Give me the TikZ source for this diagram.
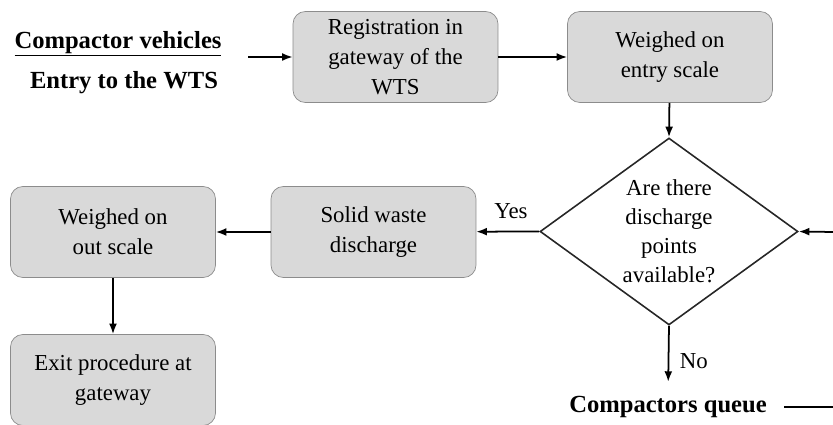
\documentclass[tikz,border=0pt]{standalone}
\usepackage{fontspec}
\setmainfont{Liberation Serif}
\usetikzlibrary{shapes.geometric,arrows.meta,positioning}

\begin{document}
\begin{tikzpicture}[x=0.02cm, y=-0.02cm,
  proc/.style={rectangle, draw=black!45, fill=black!15, rounded corners=7pt, minimum width=4.1cm, minimum height=1.82cm, inner sep=1pt, align=center, font=\fontsize{13}{17}\selectfont},
  dec/.style={diamond, draw=black!85, line width=0.9pt, aspect=1.38, inner sep=0pt, minimum width=5.16cm, minimum height=3.74cm, align=center, font=\fontsize{13}{16.5}\selectfont},
  lbl/.style={font=\bfseries\fontsize{14}{17}\selectfont, inner sep=0pt},
  note/.style={font=\fontsize{13}{17}\selectfont, inner sep=0pt},
  arrow/.style={-{Latex[length=6pt,width=4.5pt]}, line width=1pt}
]
\useasboundingbox (0,0) rectangle (833,425);

% start of the flow
\node[lbl] (veh) at (118,44) {\underline{Compactor vehicles}};
\node[lbl] (entry) at (124,83) {Entry to the WTS};
\coordinate (s0) at (248,57);

% process boxes
\node[proc] (reg) at (395.5,57) {Registration in\\gateway of the\\WTS};
\node[proc] (went) at (670,57) {Weighed on\\entry scale};
\node[dec] (avail) at (669,231.5) {Are there\\discharge\\points\\available?};
\node[proc] (solid) at (373.5,232) {Solid waste\\discharge};
\node[proc] (wout) at (113,232) {Weighed on\\out scale};
\node[proc] (exit) at (113,380) {Exit procedure at\\gateway};

% queue
\node[lbl] (queue) at (668,407) {Compactors queue};
\coordinate (qout) at (833,407);
\coordinate (qin) at (833,232);

% arrows
\draw[arrow] (s0) -- (reg);
\draw[arrow] (reg) -- (went);
\draw[arrow] (went) -- (avail.north);
\draw[arrow] (avail.west) -- node[note, above=7pt, pos=0.45] (yes) {Yes} (solid);
\draw[arrow] (solid) -- (wout);
\draw[arrow] (wout) -- (exit);
\draw[arrow, shorten >=8pt] (avail.south) -- (queue.north) node[note, midway, right=6pt] (no) {No};
\draw[line width=1pt] (queue.east) ++(17,0) -- (qout);
\draw[arrow] (qin) -- (avail.east);

\end{tikzpicture}
\end{document}
